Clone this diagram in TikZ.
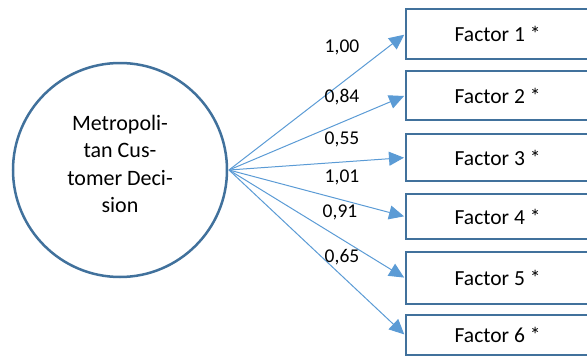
\documentclass[tikz,border=0pt]{standalone}
\usepackage{fontspec}
\setmainfont{Carlito}
\usetikzlibrary{arrows.meta}
\definecolor{outline}{HTML}{41719C}
\definecolor{link}{HTML}{5B9BD5}
\begin{document}
\begin{tikzpicture}[x=1pt,y=-1pt,
  factorbox/.style={draw=outline,line width=2.2pt,minimum width=183pt,minimum height=47pt,
    inner sep=0pt,anchor=north west,font=\fontsize{21.5}{26}\selectfont},
  loading/.style={draw=link,line width=1pt,-{Triangle[length=15pt,width=14pt]},shorten >=1pt},
  weight/.style={font=\fontsize{19.5}{24}\selectfont,inner sep=0pt}]
\useasboundingbox (0,0) rectangle (587,356);
\node[circle,draw=outline,line width=2.5pt,minimum size=214pt,inner sep=0pt] (latent) at (120,170) {};
\node[align=center,font=\fontsize{22}{27.5}\selectfont] (latenttext) at (120,164)
  {Metropoli-\\tan Cus-\\tomer Deci-\\sion};
\coordinate (src) at (229,170);
\node[factorbox,minimum height=50pt] (f1) at (405,8) {Factor 1 *};
\node[factorbox,minimum height=49pt] (f2) at (405,70) {Factor 2 *};
\node[factorbox,minimum height=47pt] (f3) at (405,133) {Factor 3 *};
\node[factorbox,minimum height=45pt] (f4) at (405,193) {Factor 4 *};
\node[factorbox,minimum height=52pt] (f5) at (405,251) {Factor 5 *};
\node[factorbox,minimum height=40pt] (f6) at (405,314) {Factor 6 *};
\foreach \f in {f1,f2,f3,f4,f5,f6}
  \draw[loading] (src) -- (\f.west);
\node[weight] (w1) at (342,47) {1,00};
\node[weight] (w2) at (342,97) {0,84};
\node[weight] (w3) at (342,139) {0,55};
\node[weight] (w4) at (342,177) {1,01};
\node[weight] (w5) at (340,212) {0,91};
\node[weight] (w6) at (342,257) {0,65};
\end{tikzpicture}
\end{document}
